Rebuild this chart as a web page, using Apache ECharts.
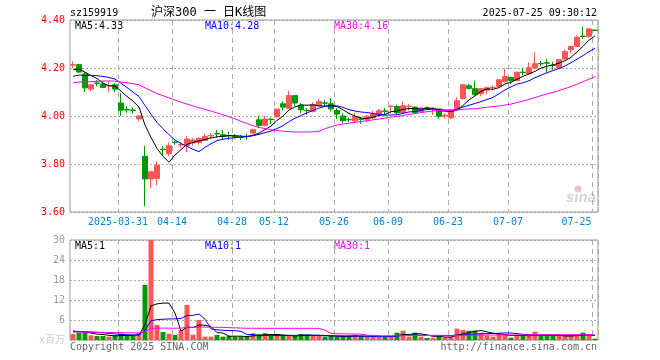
<!DOCTYPE html>
<html><head><meta charset="utf-8">
<script src="https://cdn.jsdelivr.net/npm/echarts@6/dist/echarts.min.js"></script>
<style>html,body{margin:0;padding:0;background:#fff}#c{width:660px;height:360px}</style>
</head><body><div id="c"></div>
<script>
const dates = [
'2025-03-19','2025-03-20','2025-03-21','2025-03-24','2025-03-25','2025-03-26','2025-03-27','2025-03-28','2025-03-31',
'2025-04-01','2025-04-02','2025-04-03','2025-04-07','2025-04-08','2025-04-09','2025-04-10','2025-04-11','2025-04-14','2025-04-15','2025-04-16','2025-04-17','2025-04-18','2025-04-21','2025-04-22','2025-04-23','2025-04-24','2025-04-25','2025-04-28','2025-04-29','2025-04-30',
'2025-05-06','2025-05-07','2025-05-08','2025-05-09','2025-05-12','2025-05-13','2025-05-14','2025-05-15','2025-05-16','2025-05-19','2025-05-20','2025-05-21','2025-05-22','2025-05-23','2025-05-26','2025-05-27','2025-05-28','2025-05-29','2025-05-30',
'2025-06-03','2025-06-04','2025-06-05','2025-06-06','2025-06-09','2025-06-10','2025-06-11','2025-06-12','2025-06-13','2025-06-16','2025-06-17','2025-06-18','2025-06-19','2025-06-20','2025-06-23','2025-06-24','2025-06-25','2025-06-26','2025-06-27','2025-06-30',
'2025-07-01','2025-07-02','2025-07-03','2025-07-04','2025-07-07','2025-07-08','2025-07-09','2025-07-10','2025-07-11','2025-07-14','2025-07-15','2025-07-16','2025-07-17','2025-07-18','2025-07-21','2025-07-22','2025-07-23','2025-07-24','2025-07-25'];

const opens = [4.212,4.214,4.175,4.112,4.138,4.133,4.125,4.130,4.054,4.027,
4.025,3.988,3.832,3.738,3.740,3.862,3.843,3.891,3.879,3.876,
3.888,3.890,3.899,3.917,3.927,3.922,3.919,3.916,3.913,3.916,
3.929,3.984,3.960,3.987,3.996,4.051,4.032,4.085,4.045,4.024,
4.019,4.043,4.055,4.051,4.023,4.000,3.986,3.980,3.988,3.986,
3.992,4.005,4.021,4.039,4.040,4.013,4.039,4.037,4.019,4.034,
4.031,4.029,4.001,3.992,4.026,4.073,4.126,4.114,4.093,4.107,
4.118,4.123,4.144,4.160,4.148,4.183,4.176,4.200,4.219,4.222,
4.212,4.200,4.237,4.276,4.290,4.333,4.332,4.358];

const closes = [4.214,4.183,4.117,4.130,4.136,4.119,4.127,4.112,4.024,4.025,
4.023,4.000,3.738,3.768,3.794,3.860,3.876,3.889,3.881,3.904,
3.900,3.907,3.915,3.919,3.925,3.914,3.917,3.914,3.911,3.914,
3.943,3.961,3.987,3.985,4.029,4.037,4.085,4.054,4.026,4.022,
4.047,4.060,4.053,4.029,4.008,3.980,3.984,3.998,3.986,3.999,
4.008,4.022,4.019,4.041,4.013,4.043,4.041,4.015,4.033,4.032,
4.033,3.999,4.003,4.023,4.064,4.130,4.115,4.089,4.114,4.118,
4.120,4.151,4.165,4.148,4.182,4.181,4.201,4.218,4.217,4.220,
4.210,4.235,4.269,4.290,4.328,4.331,4.363,4.356];

const lows = [4.200,4.180,4.100,4.103,4.124,4.117,4.100,4.100,4.000,4.013,
4.010,3.978,3.624,3.699,3.711,3.832,3.832,3.880,3.868,3.849,
3.876,3.882,3.896,3.908,3.910,3.901,3.901,3.905,3.901,3.901,
3.924,3.950,3.957,3.967,3.996,4.023,4.029,4.040,4.012,4.005,
4.015,4.040,4.040,4.019,3.987,3.970,3.974,3.970,3.968,3.975,
3.988,3.998,4.005,4.012,4.005,4.010,4.023,4.010,4.015,4.025,
4.005,3.988,3.990,3.988,4.023,4.068,4.110,4.085,4.082,4.093,
4.105,4.119,4.140,4.133,4.144,4.170,4.172,4.196,4.207,4.182,
4.193,4.196,4.234,4.262,4.287,4.322,4.325,4.355];

const highs = [4.228,4.216,4.183,4.132,4.149,4.144,4.144,4.137,4.096,4.040,
4.036,4.002,3.876,3.770,3.811,3.874,3.890,3.897,3.890,3.915,
3.907,3.911,3.926,3.929,3.943,3.943,3.935,3.925,3.921,3.926,
3.946,4.001,4.001,3.993,4.029,4.061,4.105,4.085,4.054,4.033,
4.057,4.072,4.065,4.075,4.033,4.012,3.994,4.012,3.997,4.005,
4.022,4.029,4.033,4.047,4.047,4.061,4.051,4.040,4.036,4.040,
4.037,4.031,4.011,4.029,4.078,4.134,4.134,4.147,4.114,4.123,
4.128,4.154,4.198,4.165,4.186,4.201,4.223,4.265,4.229,4.238,
4.226,4.237,4.276,4.293,4.336,4.373,4.367,4.360];

// volume, millions
const volumes = [1.8,2.2,2.2,1.4,1.2,1.2,1.0,1.4,1.9,1.4,
1.2,2.0,16.5,30,4.5,2.4,1.9,1.5,3.0,10.5,
1.6,6.0,1.0,1.0,1.5,1.0,1.2,1.0,1.0,1.0,
2.0,1.8,2.1,1.2,1.2,1.2,1.2,1.2,1.8,1.6,
1.2,1.2,1.0,1.2,1.0,1.0,1.2,1.4,1.2,1.0,
1.0,1.0,1.0,1.2,2.2,2.8,1.0,2.2,1.0,0.6,
0.7,1.2,0.8,1.0,3.4,3.0,2.8,2.8,2.2,1.4,
1.0,1.8,1.8,0.7,1.4,1.2,1.2,2.5,1.2,1.2,
1.2,1.2,1.2,1.2,1.8,2.2,1.4,0.4];

// sessions before the visible window (needed by the moving averages)
const preCloses = [4.10,4.11,4.09,4.08,4.10,4.12,4.13,4.14,4.12,4.13,
4.13,4.12,4.14,4.15,4.13,4.14,4.16,4.15,4.14,4.13,
4.13,4.14,4.12,4.15,4.15,4.17,4.18,4.20,4.20];
const preVolumes = [2.2,2.5,2.3,2.6,2.1,2.4,2.2,2.5,2.3,2.4,
2.3,2.6,2.2,2.4,2.5,2.3,2.2,2.4,2.3,2.3,
2.2,2.4,2.3,2.2,2.4,3.0,2.8,3.1,2.8];

const labelDates = ['2025-03-31','2025-04-14','2025-04-28','2025-05-12','2025-05-26','2025-06-09','2025-06-23','2025-07-07','2025-07-25'];
const priceMin = 3.6, priceMax = 4.4, priceStep = 0.2;
const volMin = 0, volMax = 30, volStep = 6;
const maPeriods = [5, 10, 30];

function movingAvg(pre, vals, n) {
  const all = pre.concat(vals);
  return vals.map((_, i) => {
    const end = pre.length + i;
    let s = 0;
    for (let k = end - n + 1; k <= end; k++) s += all[k];
    return +(s / n).toFixed(4);
  });
}
const priceMA = maPeriods.map(n => movingAvg(preCloses, closes, n));
const volMA = maPeriods.map(n => movingAvg(preVolumes, volumes, n));

const RED = '#ff5555', GREEN = '#009900';
const maColors = ['#000000', '#0000ff', '#ff00ff'];
const MONO = '"DejaVu Sans Mono", "Noto Sans CJK SC", monospace';
const labelIdx = new Set(labelDates.map(d => dates.indexOf(d)));
const showAt = (idx) => labelIdx.has(idx);
const lastLabel = labelDates[labelDates.length - 1];

const candleData = dates.map((d, i) => [opens[i], closes[i], lows[i], highs[i]]);
const volData = volumes.map((v, i) => ({ value: v, itemStyle: { color: closes[i] >= opens[i] ? RED : GREEN } }));

const chart = echarts.init(document.getElementById('c'), null, { renderer: 'canvas' });

const splitX = { show: true, interval: (idx) => showAt(idx), lineStyle: { color: '#aaaaaa', type: [5, 4], width: 1 } };

const legendX = [75, 205, 334];
const graphics = [];
graphics.push({ type: 'text', x: 70, y: 13, style: { text: 'sz159919', font: '10px ' + MONO, fill: '#000', textVerticalAlign: 'middle' } });
graphics.push({ type: 'text', x: 151, y: 13, style: { text: '沪深300 一 日K线图', font: '12px ' + MONO, fill: '#000', textVerticalAlign: 'middle' } });
graphics.push({ type: 'text', x: 597, y: 13, style: { text: '2025-07-25 09:30:12', font: '10px ' + MONO, fill: '#000', textAlign: 'right', textVerticalAlign: 'middle' } });
maPeriods.forEach((n, k) => {
  const last = priceMA[k][priceMA[k].length - 1];
  graphics.push({ type: 'text', x: legendX[k], y: 26, style: { text: 'MA' + n + ':' + last.toFixed(2), font: '10px ' + MONO, fill: maColors[k], textVerticalAlign: 'middle' } });
  const lv = volMA[k][volMA[k].length - 1];
  graphics.push({ type: 'text', x: legendX[k], y: 246, style: { text: 'MA' + n + ':' + Math.floor(lv), font: '10px ' + MONO, fill: maColors[k], textVerticalAlign: 'middle' } });
});
graphics.push({ type: 'circle', shape: { cx: 578, cy: 189, r: 3.5 }, style: { fill: '#f6c0c0' } });
graphics.push({ type: 'text', x: 596, y: 198, style: { text: 'sina', font: 'italic bold 15px "Liberation Sans", sans-serif', fill: '#d4d4d4', textAlign: 'right', textVerticalAlign: 'middle' } });
graphics.push({ type: 'text', x: 70, y: 347, style: { text: 'Copyright 2025 SINA.COM', font: '10px ' + MONO, fill: '#666', textVerticalAlign: 'middle' } });
graphics.push({ type: 'text', x: 597, y: 347, style: { text: 'http://finance.sina.com.cn', font: '10px ' + MONO, fill: '#666', textAlign: 'right', textVerticalAlign: 'middle' } });

const option = {
  animation: false,
  backgroundColor: '#fff',
  grid: [
    { left: 70, top: 20, width: 528, height: 192, show: true, borderColor: '#999', borderWidth: 1, containLabel: false },
    { left: 70, top: 240, width: 528, height: 100, show: true, borderColor: '#999', borderWidth: 1, containLabel: false }
  ],
  xAxis: [
    { type: 'category', gridIndex: 0, data: dates, boundaryGap: true,
      axisLine: { show: false }, axisTick: { show: false },
      axisLabel: { show: true, interval: (idx) => showAt(idx), margin: 5, color: '#0088cc', fontSize: 10, fontFamily: MONO,
        formatter: (v) => v === labelDates[0] ? '{n|' + v + '}' : (v === lastLabel ? '{e|' + v.slice(5) + '}' : '{n|' + v.slice(5) + '}'),
        rich: {
          n: { color: '#0088cc', fontSize: 10, fontFamily: MONO, padding: [0, 6, 0, 0] },
          e: { color: '#0088cc', fontSize: 10, fontFamily: MONO, padding: [0, 37, 0, 0] }
        } },
      splitLine: splitX },
    { type: 'category', gridIndex: 1, data: dates, boundaryGap: true,
      axisLine: { show: false }, axisTick: { show: false }, axisLabel: { show: false },
      splitLine: splitX }
  ],
  yAxis: [
    { type: 'value', gridIndex: 0, min: priceMin, max: priceMax, interval: priceStep, scale: true,
      axisLine: { show: false }, axisTick: { show: false },
      axisLabel: { color: '#ff0000', fontSize: 10, fontFamily: MONO, margin: 5, formatter: (v) => v.toFixed(2) },
      splitLine: { show: true, lineStyle: { color: '#aaaaaa', type: [2, 2], width: 1 } } },
    { type: 'value', gridIndex: 1, min: volMin, max: volMax, interval: volStep,
      axisLine: { show: false }, axisTick: { show: false },
      axisLabel: { color: '#999999', fontSize: 10, fontFamily: MONO, margin: 5,
        formatter: (v) => v === 0 ? '{u|x百万}' : String(v),
        rich: { u: { color: '#cccccc', fontSize: 10, fontFamily: MONO } } },
      splitLine: { show: true, lineStyle: { color: '#aaaaaa', type: [2, 2], width: 1 } } }
  ],
  series: [
    { type: 'candlestick', xAxisIndex: 0, yAxisIndex: 0, data: candleData, barWidth: 5,
      itemStyle: { color: RED, color0: GREEN, borderColor: RED, borderColor0: GREEN, borderWidth: 1 } },
    ...maPeriods.map((n, k) => ({ type: 'line', xAxisIndex: 0, yAxisIndex: 0, data: priceMA[k], symbol: 'none',
      lineStyle: { color: maColors[k], width: 1 }, silent: true })),
    { type: 'bar', xAxisIndex: 1, yAxisIndex: 1, data: volData, barWidth: 5 },
    ...maPeriods.map((n, k) => ({ type: 'line', xAxisIndex: 1, yAxisIndex: 1, data: volMA[k], symbol: 'none',
      lineStyle: { color: maColors[k], width: 1 }, silent: true }))
  ],
  graphic: graphics
};
chart.setOption(option);
</script></body></html>
